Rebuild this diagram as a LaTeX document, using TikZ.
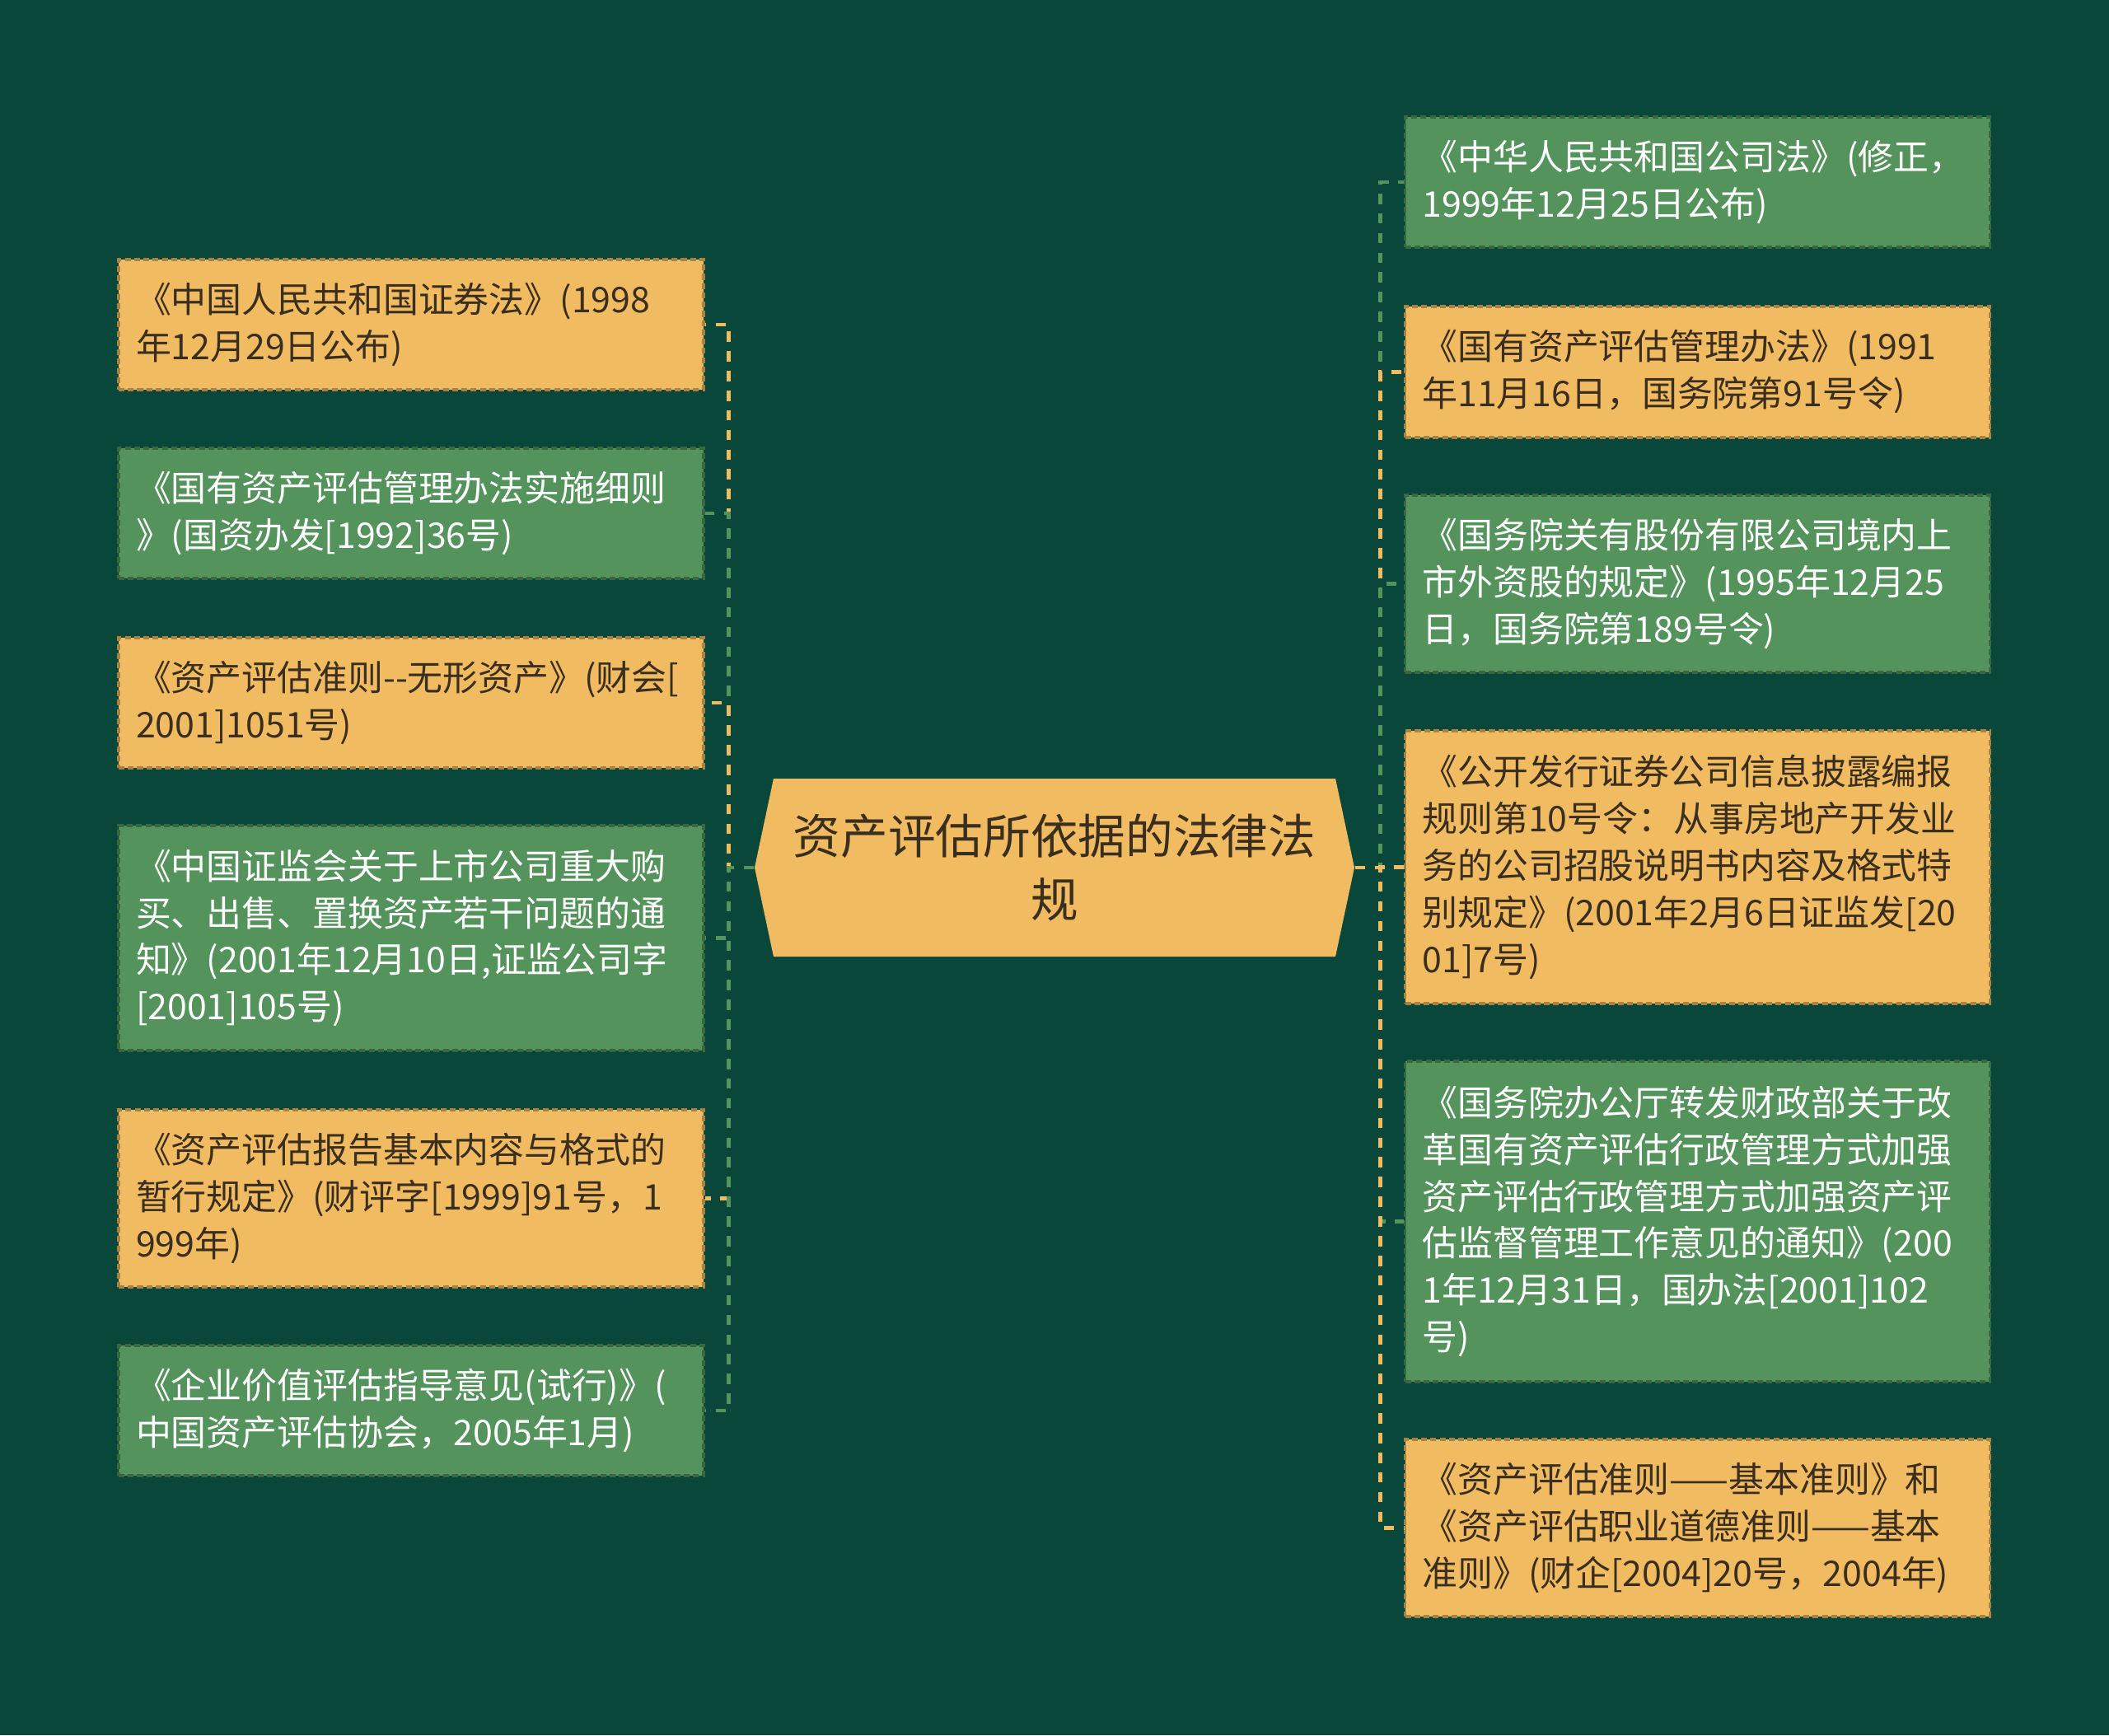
\documentclass[tikz,border=0pt]{standalone}
\usepackage{fontspec}
\setmainfont{Noto Sans CJK SC}
\usetikzlibrary{shapes.symbols}

\definecolor{bgc}{HTML}{08473A}
\definecolor{ylw}{HTML}{F1BB62}
\definecolor{grn}{HTML}{54935C}
\definecolor{ink}{HTML}{3A2E1E}

\tikzset{
	leaf/.style={rectangle, fill=#1, draw=#1!70!black, line width=0.9pt,
		dash pattern=on 2pt off 1.2pt, minimum width=7.1cm, text width=6.68cm,
		inner xsep=0.21cm, inner ysep=0pt, align=left,
		font=\fontsize{12.2pt}{16.2pt}\selectfont},
	yleaf/.style={leaf=ylw, text=ink},
	gleaf/.style={leaf=grn, text=white},
	link/.style={draw=#1, line width=1.4pt, dash pattern=on 3.6pt off 3.2pt},
	hub/.style={signal, signal to=west and east, signal pointer angle=156,
		fill=ylw, text=ink, minimum width=7.28cm, minimum height=2.16cm,
		inner sep=0pt, text width=6.8cm, align=center,
		font=\fontsize{16.4pt}{21.9pt}\selectfont},
}

\begin{document}
\begin{tikzpicture}
	\fill[bgc] (0,0) rectangle (25.6,-21.06);

	\node[hub] (ctr) at (12.80,-10.53) {资产评估所依据的法律法\\规};

	\node[yleaf, minimum height=1.58cm] (l1) at (4.99,-3.94) {《中国人民共和国证券法》(1998\\年12月29日公布)};
	\node[gleaf, minimum height=1.58cm] (l2) at (4.99,-6.23) {《国有资产评估管理办法实施细则\\》(国资办发[1992]36号)};
	\node[yleaf, minimum height=1.58cm] (l3) at (4.99,-8.53) {《资产评估准则-{}-无形资产》(财会[\\2001]1051号)};
	\node[gleaf, minimum height=2.73cm] (l4) at (4.99,-11.385) {《中国证监会关于上市公司重大购\\买、出售、置换资产若干问题的通\\知》(2001年12月10日,证监公司字\\{}[2001]105号)};
	\node[yleaf, minimum height=2.15cm] (l5) at (4.99,-14.545) {《资产评估报告基本内容与格式的\\暂行规定》(财评字[1999]91号，1\\999年)};
	\node[gleaf, minimum height=1.58cm] (l6) at (4.99,-17.12) {《企业价值评估指导意见(试行)》(\\中国资产评估协会，2005年1月)};

	\node[gleaf, minimum height=1.58cm] (r1) at (20.605,-2.21) {《中华人民共和国公司法》(修正，\\1999年12月25日公布)};
	\node[yleaf, minimum height=1.59cm] (r2) at (20.605,-4.515) {《国有资产评估管理办法》(1991\\年11月16日，国务院第91号令)};
	\node[gleaf, minimum height=2.15cm] (r3) at (20.605,-7.085) {《国务院关有股份有限公司境内上\\市外资股的规定》(1995年12月25\\日，国务院第189号令)};
	\node[yleaf, minimum height=3.31cm] (r4) at (20.605,-10.525) {《公开发行证券公司信息披露编报\\规则第10号令：从事房地产开发业\\务的公司招股说明书内容及格式特\\别规定》(2001年2月6日证监发[20\\01]7号)};
	\node[gleaf, minimum height=3.89cm] (r5) at (20.605,-14.825) {《国务院办公厅转发财政部关于改\\革国有资产评估行政管理方式加强\\资产评估行政管理方式加强资产评\\估监督管理工作意见的通知》(200\\1年12月31日，国办法[2001]102\\号)};
	\node[yleaf, minimum height=2.15cm] (r6) at (20.605,-18.545) {《资产评估准则——基本准则》和\\《资产评估职业道德准则——基本\\准则》(财企[2004]20号，2004年)};

	\foreach \n/\c in {l1/ylw,l2/grn,l3/ylw,l4/grn,l5/ylw,l6/grn}
		\draw[link=\c] (ctr.west) -- ++(-0.31,0) |- (\n.east);
	\foreach \n/\c in {r1/grn,r2/ylw,r3/grn,r4/ylw,r5/grn,r6/ylw}
		\draw[link=\c] (ctr.east) -- ++(0.31,0) |- (\n.west);
\end{tikzpicture}
\end{document}
